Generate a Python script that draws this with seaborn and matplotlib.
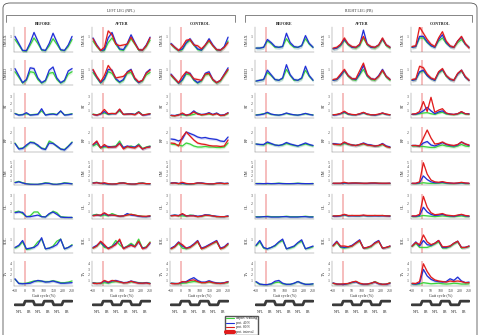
import matplotlib; matplotlib.use("Agg")
import matplotlib.pyplot as plt
import seaborn as sns
from matplotlib.lines import Line2D
from matplotlib.patches import FancyBboxPatch

W, H = 480, 335

gait = [-50, -30, -10, 10, 30, 50, 70, 90, 110, 130, 150, 170, 190, 210, 230, 250]
muscles = ["GMAX", "GMED", "ST", "RF", "GM", "GL", "SOL", "TA"]
y_max = [1.6, 1.6, 3.5, 2.5, 5.5, 3.2, 1.8, 4.5]
y_ticks = [[1], [1], [1, 2, 3], [1, 2], [1, 2, 3, 4, 5], [1, 2, 3], [1], [1, 2, 3, 4]]
band_sd = [0.12, 0.12, 0.15, 0.15, 0.2, 0.15, 0.1, 0.25]
legs = ["LEFT LEG (NPL)", "RIGHT LEG (PB)"]
conditions = ["BEFORE", "AFTER", "CONTROL"]
series_names = ["unpert. walking", "pert. 40 N", "pert. 80 N", "pert. interval"]
xticks = [-50, 0, 50, 100, 150, 200, 250]
pert_span = (-2, 6)
phase_x = [-50, -4, 4, 46, 54, 96, 104, 146, 154, 196, 204, 250]
phase_lvl = [0, 0, 1, 1, 0, 0, 1, 1, 0, 0, 1, 1]
phase_pos = [-25, 25, 75, 125, 175, 225]
phase_labels = ["NPL", "PB", "NPL", "PB", "NPL", "PB"]

# (green, blue, red) per muscle
L_BEFORE = {
    "GMAX": ([0.8,0.45,0.08,0.05,0.45,0.9,0.55,0.12,0.08,0.4,0.85,0.5,0.12,0.08,0.35,0.8],
             [1.0,0.55,0.1,0.08,0.6,1.25,0.7,0.15,0.1,0.55,1.2,0.65,0.15,0.1,0.45,1.0], None),
    "GMED": ([0.85,0.5,0.12,0.3,0.85,0.8,0.35,0.12,0.25,0.75,0.8,0.35,0.12,0.25,0.7,0.85],
             [1.05,0.6,0.15,0.35,1.1,1.05,0.45,0.15,0.3,0.95,1.15,0.45,0.15,0.3,0.9,1.05], None),
    "ST":   ([0.65,0.45,0.5,0.6,0.45,0.5,0.55,1.0,0.45,0.55,0.6,0.5,0.95,0.45,0.5,0.6],
             [0.6,0.4,0.45,0.75,0.4,0.45,0.5,1.3,0.4,0.5,0.55,0.45,1.0,0.4,0.45,0.55], None),
    "RF":   ([0.9,0.35,0.4,0.6,1.0,0.95,0.6,0.4,0.3,1.1,0.9,0.55,0.3,0.25,0.6,1.0],
             [0.85,0.3,0.35,0.7,0.95,0.9,0.7,0.35,0.25,0.9,0.85,0.6,0.3,0.2,0.55,0.95], None),
    "GM":   ([0.6,0.8,0.5,0.3,0.2,0.15,0.15,0.3,0.5,0.4,0.2,0.15,0.3,0.5,0.4,0.3],
             [0.5,0.7,0.45,0.25,0.15,0.15,0.15,0.25,0.4,0.35,0.15,0.15,0.25,0.4,0.35,0.25], None),
    "GL":   ([0.9,1.0,0.7,0.3,0.4,0.9,0.9,0.3,0.3,0.6,1.0,0.8,0.3,0.25,0.2,0.2],
             [0.8,0.9,0.85,0.3,0.3,0.4,0.5,0.3,0.25,0.7,0.9,0.6,0.25,0.2,0.2,0.2], None),
    "SOL":  ([0.35,0.5,0.8,0.25,0.3,0.45,0.8,1.0,0.3,0.35,0.5,0.85,1.0,0.3,0.4,0.6],
             [0.4,0.55,0.9,0.3,0.35,0.4,0.6,1.1,0.3,0.35,0.45,0.6,1.0,0.3,0.4,0.55], None),
    "TA":   ([1.2,0.5,0.45,0.5,0.7,0.9,0.9,0.85,0.8,0.8,0.95,0.8,0.6,0.6,0.7,0.9],
             [1.3,0.45,0.4,0.45,0.5,0.8,1.0,0.9,0.7,0.75,0.9,0.7,0.5,0.5,0.55,0.6], None),
}
L_AFTER = {
    "GMAX": ([0.7,0.35,0.08,0.1,0.6,0.9,0.5,0.15,0.1,0.45,0.85,0.5,0.12,0.1,0.35,0.75],
             [0.9,0.45,0.1,0.15,0.9,1.25,0.6,0.2,0.15,0.55,1.1,0.6,0.15,0.12,0.45,0.95],
             [0.85,0.4,0.1,0.3,1.35,1.1,0.5,0.4,0.45,0.5,0.95,0.55,0.15,0.12,0.4,0.9]),
    "GMED": ([0.8,0.45,0.12,0.35,0.85,0.75,0.35,0.15,0.3,0.75,0.8,0.35,0.15,0.25,0.65,0.8],
             [0.95,0.5,0.15,0.4,1.0,0.95,0.4,0.2,0.35,0.85,1.0,0.4,0.15,0.3,0.8,1.0],
             [1.0,0.55,0.2,0.6,1.25,0.9,0.45,0.5,0.55,0.8,0.95,0.45,0.2,0.3,0.75,0.95]),
    "ST":   ([0.55,0.45,0.6,0.7,0.5,0.6,0.65,1.0,0.5,0.55,0.6,0.5,0.9,0.45,0.5,0.6],
             [0.5,0.4,0.55,0.9,0.55,0.6,0.6,1.2,0.5,0.55,0.6,0.5,0.85,0.4,0.45,0.55],
             [0.5,0.4,0.6,1.2,0.6,0.65,0.6,1.25,0.5,0.55,0.55,0.45,0.8,0.4,0.5,0.6]),
    "RF":   ([0.6,0.8,0.4,0.5,0.5,0.55,0.6,1.1,0.4,0.5,0.6,0.45,0.8,0.35,0.5,0.6],
             [0.7,1.0,0.45,0.6,0.55,0.5,0.55,0.9,0.45,0.6,0.5,0.5,0.7,0.3,0.45,0.55],
             [0.75,1.1,0.4,0.75,0.45,0.5,0.5,0.85,0.3,0.55,0.45,0.4,0.65,0.3,0.45,0.5]),
    "GM":   ([0.5,0.6,0.4,0.3,0.2,0.2,0.25,0.45,0.5,0.3,0.2,0.2,0.4,0.45,0.3,0.3],
             [0.45,0.55,0.35,0.35,0.2,0.2,0.2,0.4,0.45,0.3,0.2,0.2,0.35,0.4,0.3,0.25],
             [0.4,0.5,0.35,0.5,0.3,0.2,0.25,0.4,0.45,0.3,0.2,0.2,0.35,0.4,0.3,0.3]),
    "GL":   ([0.5,0.6,0.4,0.5,0.4,0.7,0.5,0.35,0.4,0.55,0.6,0.5,0.4,0.35,0.3,0.4],
             [0.45,0.5,0.45,0.7,0.45,0.5,0.45,0.35,0.4,0.7,0.5,0.45,0.35,0.3,0.3,0.35],
             [0.4,0.5,0.5,0.8,0.5,0.5,0.45,0.35,0.4,0.5,0.6,0.5,0.4,0.35,0.35,0.4]),
    "SOL":  ([0.35,0.5,0.75,0.4,0.35,0.5,0.9,0.6,0.35,0.5,0.7,0.5,1.0,0.35,0.45,0.8],
             [0.4,0.55,0.8,0.5,0.35,0.45,0.7,0.9,0.35,0.45,0.6,0.45,0.8,0.35,0.4,0.7],
             [0.35,0.5,0.85,0.6,0.3,0.45,0.6,1.0,0.3,0.45,0.55,0.45,0.85,0.3,0.4,0.75]),
    "TA":   ([0.6,0.5,0.45,0.6,0.5,0.7,0.8,0.7,0.6,0.6,0.75,0.7,0.6,0.55,0.6,0.5],
             [0.55,0.45,0.5,0.9,0.6,0.9,1.0,0.8,0.6,0.65,0.9,0.7,0.55,0.5,0.6,0.45],
             [0.5,0.45,0.5,1.0,0.7,1.0,0.9,0.75,0.55,0.6,0.85,0.65,0.5,0.5,0.55,0.4]),
}
L_CONTROL = {
    "GMAX": ([0.5,0.25,0.08,0.15,0.55,0.75,0.45,0.15,0.1,0.4,0.7,0.4,0.12,0.1,0.3,0.7],
             [0.55,0.3,0.1,0.2,0.6,0.85,0.5,0.2,0.12,0.45,0.85,0.45,0.15,0.12,0.35,0.95],
             [0.5,0.3,0.1,0.35,0.75,0.8,0.45,0.4,0.2,0.45,0.75,0.4,0.15,0.12,0.3,0.6]),
    "GMED": ([0.6,0.35,0.1,0.3,0.7,0.65,0.3,0.12,0.25,0.65,0.7,0.3,0.12,0.25,0.6,0.95],
             [0.7,0.4,0.12,0.35,0.8,0.75,0.35,0.15,0.3,0.75,0.85,0.35,0.15,0.3,0.7,1.1],
             [0.65,0.4,0.15,0.55,0.85,0.7,0.4,0.35,0.3,0.7,0.75,0.35,0.15,0.3,0.65,1.0]),
    "ST":   ([0.35,0.3,0.5,0.45,0.35,0.4,0.5,0.7,0.4,0.5,0.55,0.45,0.65,0.35,0.4,0.6],
             [0.4,0.35,0.45,0.6,0.4,0.55,1.0,0.6,0.5,0.55,0.75,0.5,0.7,0.4,0.45,0.75],
             [0.35,0.3,0.4,0.7,0.4,0.5,0.85,0.55,0.45,0.5,0.65,0.45,0.6,0.35,0.4,0.7]),
    "RF":   ([0.8,0.75,0.7,0.6,0.9,0.8,0.6,0.5,0.5,0.55,0.5,0.5,0.45,0.45,0.5,0.9],
             [1.3,1.25,1.1,1.3,2.0,1.85,1.7,1.5,1.4,1.45,1.35,1.3,1.25,1.1,1.05,1.5],
             [0.9,0.85,0.6,1.5,2.0,1.6,1.2,0.9,0.8,0.75,0.65,0.6,0.6,0.55,0.6,1.2]),
    "GM":   ([0.4,0.5,0.3,0.3,0.2,0.2,0.25,0.4,0.4,0.3,0.2,0.2,0.35,0.4,0.3,0.35],
             [0.45,0.5,0.35,0.4,0.25,0.25,0.3,0.45,0.45,0.35,0.25,0.25,0.4,0.45,0.35,0.4],
             [0.4,0.45,0.3,0.6,0.35,0.25,0.3,0.45,0.4,0.3,0.25,0.25,0.35,0.4,0.3,0.35]),
    "GL":   ([0.4,0.5,0.4,0.4,0.35,0.5,0.45,0.3,0.35,0.45,0.5,0.4,0.3,0.3,0.3,0.35],
             [0.45,0.5,0.45,0.6,0.4,0.45,0.45,0.35,0.4,0.55,0.5,0.4,0.35,0.3,0.3,0.4],
             [0.4,0.45,0.4,0.7,0.4,0.4,0.4,0.3,0.35,0.5,0.45,0.4,0.3,0.3,0.3,0.35]),
    "SOL":  ([0.3,0.45,0.7,0.35,0.3,0.4,0.6,0.8,0.3,0.4,0.55,0.7,0.8,0.3,0.4,0.6],
             [0.35,0.5,0.8,0.5,0.35,0.45,0.65,0.9,0.35,0.45,0.6,0.75,0.9,0.35,0.45,0.7],
             [0.3,0.45,0.75,0.6,0.35,0.4,0.6,0.85,0.3,0.4,0.55,0.7,0.85,0.3,0.4,0.65]),
    "TA":   ([0.5,0.45,0.4,0.5,0.55,0.7,0.8,0.75,0.6,0.6,0.7,0.6,0.5,0.5,0.55,0.6],
             [0.5,0.45,0.45,0.7,0.8,1.2,1.5,1.0,0.7,0.7,0.95,0.7,0.55,0.5,0.6,0.8],
             [0.45,0.4,0.45,0.8,0.7,1.0,1.1,0.8,0.6,0.6,0.8,0.6,0.5,0.45,0.55,0.75]),
}
R_BEFORE = {
    "GMAX": ([0.25,0.25,0.3,0.7,0.55,0.3,0.3,0.35,0.85,0.5,0.3,0.3,0.4,0.85,0.5,0.3],
             [0.25,0.25,0.3,0.8,0.6,0.35,0.3,0.35,1.2,0.6,0.35,0.3,0.4,1.05,0.55,0.3], None),
    "GMED": ([0.25,0.3,0.35,0.8,0.6,0.35,0.3,0.4,1.0,0.6,0.3,0.3,0.4,0.95,0.55,0.3],
             [0.25,0.3,0.35,0.95,0.65,0.35,0.3,0.45,1.3,0.65,0.35,0.3,0.45,1.2,0.6,0.3], None),
    "ST":   ([0.45,0.5,0.6,0.7,0.5,0.45,0.4,0.5,0.65,0.5,0.45,0.4,0.5,0.6,0.5,0.45],
             [0.4,0.45,0.55,0.8,0.55,0.45,0.4,0.5,0.7,0.55,0.45,0.4,0.5,0.65,0.5,0.4], None),
    "RF":   ([0.8,0.75,0.7,0.9,0.8,0.7,0.65,0.7,0.85,0.75,0.65,0.6,0.7,0.8,0.7,0.6],
             [0.8,0.75,0.75,1.0,0.85,0.7,0.65,0.75,0.95,0.8,0.7,0.6,0.75,0.9,0.75,0.65], None),
    "GM":   ([0.35,0.35,0.3,0.3,0.3,0.35,0.4,0.35,0.3,0.3,0.35,0.4,0.35,0.3,0.3,0.35],
             [0.3,0.3,0.3,0.35,0.3,0.3,0.35,0.3,0.3,0.3,0.3,0.35,0.3,0.3,0.3,0.3], None),
    "GL":   ([0.3,0.3,0.3,0.35,0.3,0.3,0.3,0.3,0.35,0.3,0.3,0.3,0.3,0.35,0.3,0.3],
             [0.25,0.25,0.3,0.3,0.25,0.25,0.25,0.3,0.3,0.25,0.25,0.25,0.3,0.3,0.25,0.25], None),
    "SOL":  ([0.5,0.8,0.35,0.3,0.4,0.5,0.75,0.9,0.3,0.35,0.45,0.7,0.85,0.3,0.35,0.45],
             [0.55,0.9,0.4,0.3,0.4,0.55,0.8,1.0,0.3,0.4,0.5,0.75,0.95,0.3,0.4,0.5], None),
    "TA":   ([0.7,0.3,0.25,0.25,0.35,0.6,0.7,0.4,0.3,0.3,0.45,0.8,0.5,0.3,0.3,0.35],
             [0.8,0.35,0.25,0.25,0.4,0.85,1.0,0.5,0.3,0.3,0.5,0.8,0.5,0.3,0.3,0.4], None),
}
R_AFTER = {
    "GMAX": ([0.2,0.25,0.4,0.75,0.45,0.3,0.25,0.4,0.9,0.45,0.3,0.25,0.4,0.8,0.4,0.25],
             [0.2,0.25,0.45,0.8,0.5,0.3,0.3,0.45,1.4,0.5,0.3,0.3,0.45,0.85,0.45,0.3],
             [0.25,0.3,0.5,0.9,0.5,0.35,0.3,0.5,1.0,0.5,0.35,0.3,0.45,0.9,0.45,0.3]),
    "GMED": ([0.3,0.35,0.6,0.9,0.55,0.35,0.3,0.65,1.0,0.55,0.35,0.3,0.55,0.9,0.5,0.3],
             [0.3,0.35,0.6,0.95,0.6,0.4,0.35,0.7,1.25,0.6,0.4,0.35,0.6,1.0,0.55,0.35],
             [0.35,0.4,0.7,1.0,0.6,0.4,0.4,0.9,1.4,0.65,0.4,0.35,0.55,0.95,0.55,0.35]),
    "ST":   ([0.45,0.5,0.6,0.75,0.5,0.45,0.45,0.55,0.7,0.5,0.45,0.4,0.5,0.65,0.5,0.45],
             [0.4,0.45,0.6,0.85,0.55,0.45,0.45,0.55,0.75,0.55,0.45,0.4,0.5,0.7,0.5,0.45],
             [0.45,0.5,0.65,0.95,0.6,0.5,0.45,0.6,0.8,0.55,0.45,0.45,0.55,0.7,0.55,0.45]),
    "RF":   ([0.8,0.75,0.7,0.85,0.75,0.7,0.65,0.7,0.8,0.7,0.65,0.6,0.6,0.75,0.55,0.45],
             [0.85,0.8,0.75,0.95,0.8,0.7,0.65,0.75,0.9,0.75,0.7,0.6,0.65,0.85,0.6,0.5],
             [0.8,0.75,0.75,1.0,0.8,0.7,0.65,0.75,0.85,0.7,0.65,0.6,0.65,0.8,0.55,0.45]),
    "GM":   ([0.35,0.35,0.35,0.4,0.35,0.4,0.45,0.4,0.35,0.35,0.4,0.45,0.4,0.35,0.35,0.35],
             [0.35,0.35,0.35,0.45,0.35,0.4,0.4,0.4,0.35,0.35,0.4,0.4,0.35,0.35,0.35,0.4],
             [0.4,0.4,0.4,0.6,0.4,0.45,0.45,0.4,0.4,0.4,0.45,0.45,0.4,0.4,0.4,0.4]),
    "GL":   ([0.35,0.4,0.4,0.5,0.4,0.45,0.4,0.4,0.45,0.4,0.4,0.45,0.4,0.45,0.4,0.4],
             [0.35,0.35,0.4,0.55,0.4,0.4,0.4,0.4,0.45,0.4,0.4,0.4,0.4,0.4,0.4,0.35],
             [0.4,0.4,0.45,0.6,0.45,0.45,0.45,0.45,0.5,0.45,0.45,0.45,0.45,0.45,0.4,0.4]),
    "SOL":  ([0.5,0.75,0.4,0.35,0.4,0.5,0.7,0.85,0.35,0.35,0.45,0.7,0.85,0.35,0.4,0.45],
             [0.55,0.85,0.45,0.4,0.45,0.55,0.75,0.95,0.35,0.4,0.5,0.75,0.9,0.35,0.4,0.5],
             [0.5,0.8,0.5,0.5,0.45,0.5,0.7,0.9,0.35,0.4,0.5,0.7,0.85,0.35,0.4,0.5]),
    "TA":   ([0.5,0.3,0.3,0.3,0.4,0.6,0.8,0.45,0.3,0.3,0.45,0.8,0.45,0.3,0.3,0.6],
             [0.55,0.35,0.3,0.3,0.45,0.65,0.75,0.45,0.3,0.35,0.5,0.7,0.4,0.3,0.3,0.5],
             [0.5,0.35,0.35,0.4,0.45,0.7,0.85,0.5,0.35,0.35,0.5,0.75,0.45,0.3,0.35,0.55]),
}
R_CONTROL = {
    "GMAX": ([0.3,0.35,0.9,0.9,0.6,0.4,0.3,0.7,0.9,0.55,0.35,0.3,0.6,0.8,0.5,0.3],
             [0.3,0.35,1.0,1.0,0.65,0.4,0.3,0.8,1.1,0.6,0.35,0.3,0.7,0.95,0.5,0.3],
             [0.35,0.4,1.6,1.2,0.8,0.5,0.35,0.9,1.3,0.7,0.4,0.3,0.7,1.0,0.55,0.25]),
    "GMED": ([0.3,0.35,0.8,0.9,0.6,0.4,0.3,0.75,0.95,0.55,0.35,0.3,0.7,0.9,0.5,0.3],
             [0.3,0.35,0.85,0.95,0.6,0.4,0.3,0.8,1.0,0.6,0.35,0.3,0.7,0.95,0.5,0.3],
             [0.35,0.4,1.2,1.1,0.7,0.45,0.35,0.85,1.05,0.6,0.4,0.3,0.75,0.95,0.55,0.3]),
    "ST":   ([0.5,0.5,0.6,0.7,0.75,0.6,0.5,0.7,0.8,0.55,0.5,0.45,0.55,0.7,0.55,0.5],
             [0.5,0.55,0.7,1.0,1.5,1.0,0.6,0.85,1.0,0.65,0.55,0.5,0.6,0.85,0.6,0.6],
             [0.55,0.6,0.9,2.3,0.9,2.9,0.8,1.1,1.3,0.7,0.55,0.5,0.6,0.9,0.6,0.55]),
    "RF":   ([0.6,0.6,0.55,0.55,0.5,0.45,0.45,0.6,0.7,0.6,0.55,0.5,0.6,0.75,0.6,0.55],
             [0.65,0.65,0.6,0.9,1.05,0.7,0.6,0.75,0.95,0.75,0.65,0.6,0.7,1.0,0.8,0.65],
             [0.65,0.65,0.6,1.4,2.2,1.4,0.8,0.85,1.0,0.8,0.7,0.65,0.75,1.0,0.8,0.7]),
    "GM":   ([0.3,0.3,0.35,0.5,0.4,0.35,0.35,0.4,0.45,0.35,0.3,0.3,0.35,0.4,0.3,0.3],
             [0.35,0.35,0.5,2.0,1.2,0.7,0.5,0.5,0.6,0.45,0.4,0.35,0.4,0.5,0.4,0.35],
             [0.4,0.4,0.7,4.9,2.4,1.1,0.7,0.6,0.75,0.55,0.45,0.4,0.45,0.6,0.45,0.4]),
    "GL":   ([0.3,0.3,0.35,0.45,0.4,0.35,0.3,0.35,0.4,0.35,0.3,0.3,0.35,0.4,0.3,0.3],
             [0.35,0.35,0.45,1.5,0.9,0.6,0.45,0.5,0.6,0.45,0.4,0.35,0.45,0.55,0.4,0.35],
             [0.4,0.4,0.6,2.9,1.5,0.8,0.55,0.6,0.7,0.5,0.45,0.4,0.5,0.6,0.45,0.4]),
    "SOL":  ([0.45,0.7,0.4,0.4,0.4,0.5,0.65,0.8,0.35,0.35,0.45,0.65,0.8,0.35,0.4,0.45],
             [0.5,0.8,0.5,0.9,0.6,0.55,0.7,0.9,0.4,0.4,0.5,0.7,0.85,0.4,0.4,0.5],
             [0.5,0.75,0.6,1.3,0.8,0.6,0.7,0.9,0.45,0.45,0.5,0.7,0.85,0.4,0.4,0.5]),
    "TA":   ([0.35,0.3,0.35,0.6,0.5,0.4,0.45,0.5,0.4,0.35,0.4,0.5,0.45,0.35,0.35,0.4],
             [0.4,0.35,0.5,3.0,1.8,1.2,0.9,0.8,0.7,0.8,1.3,1.0,1.6,0.9,0.6,0.7],
             [0.5,0.45,0.8,4.0,2.6,1.6,1.1,0.9,0.8,0.7,0.9,0.8,0.9,0.8,0.6,0.6]),
}
panels = [L_BEFORE, L_AFTER, L_CONTROL, R_BEFORE, R_AFTER, R_CONTROL]

COLORS = ["#3cd43c", "#1f2fd6", "#e01b1b"]
PERT_C = "#f3a3a3"
col_x = [14, 92, 170, 255, 332, 411]
col_w = 59
row_y = [27, 60, 93, 127, 160, 194, 228, 261]
row_h = 25


def frac(x, y, w, h):
    return [x / W, 1 - (y + h) / H, w / W, h / H]


def ftxt(fig, x, y, s, **kw):
    fig.text(x / W, 1 - y / H, s, ha="center", va="center", **kw)


def fline(fig, xs, ys, **kw):
    fig.add_artist(Line2D([x / W for x in xs], [1 - y / H for y in ys],
                          transform=fig.transFigure, **kw))


sns.set_theme(style="white")
plt.rcParams["font.family"] = ["Liberation Serif", "DejaVu Serif"]

fig = plt.figure(figsize=(W / 100, H / 100), dpi=100)

# rounded outer frame (bottom edge runs off the picture)
fig.add_artist(FancyBboxPatch((3 / W, -20 / H), 1 - 6 / W, 1 + 17 / H,
                              boxstyle="round,pad=0,rounding_size=0.015",
                              transform=fig.transFigure, fill=False,
                              ec="#555555", lw=0.6))

# leg headers with brackets
for (x0, x1), leg in zip([(6, 235), (245, 472)], legs):
    fline(fig, [x0, x0, x1, x1], [22, 15, 15, 22], color="#555555", lw=0.5)
    ftxt(fig, (x0 + x1) / 2, 10, leg, fontsize=2.8, color="#333333")

for ci, data in enumerate(panels):
    x0 = col_x[ci]
    ftxt(fig, x0 + col_w / 2, 24, conditions[ci % 3], fontsize=3,
         fontweight="bold", color="#222222")
    for ri, m in enumerate(muscles):
        ax = fig.add_axes(frac(x0, row_y[ri], col_w, row_h))
        ax.axvspan(*pert_span, color=PERT_C, alpha=0.7, lw=0)
        for si, vals in enumerate(data[m]):
            if vals is None:
                continue
            lo = [v - band_sd[ri] for v in vals]
            hi = [v + band_sd[ri] for v in vals]
            ax.fill_between(gait, lo, hi, color=COLORS[si], alpha=0.16, lw=0)
            sns.lineplot(x=gait, y=vals, color=COLORS[si], lw=0.9, ax=ax,
                         legend=False)
        ax.set_xlim(-55, 255)
        ax.set_ylim(0, y_max[ri])
        ax.set_yticks(y_ticks[ri])
        ax.set_xticks(xticks)
        ax.set_ylabel(m, fontsize=3, labelpad=1.5)
        ax.tick_params(length=1, width=0.3, labelsize=2.8, pad=0.8,
                       colors="#444444")
        for s in ["top", "right"]:
            ax.spines[s].set_visible(False)
        for s in ["left", "bottom"]:
            ax.spines[s].set_linewidth(0.3)
            ax.spines[s].set_color("#777777")
        if ri < len(muscles) - 1:
            ax.set_xticklabels([])
        else:
            ax.set_xlabel("Gait cycle (%)", fontsize=3, labelpad=0.8)

    # gait phase indicator
    pax = fig.add_axes(frac(x0, 299, col_w, 8))
    sns.lineplot(x=phase_x, y=phase_lvl, color="#3a3a3a", lw=2.0, ax=pax,
                 legend=False)
    pax.set_xlim(-55, 255)
    pax.set_ylim(-0.6, 1.6)
    pax.axis("off")
    for px_, lab in zip(phase_pos, phase_labels):
        ftxt(fig, x0 + (px_ + 55) / 310 * col_w, 312, lab, fontsize=2.8,
             color="#333333")

handles = [Line2D([], [], color=COLORS[0], lw=0.8),
           Line2D([], [], color=COLORS[1], lw=0.8),
           Line2D([], [], color=COLORS[2], lw=0.8),
           Line2D([], [], color=COLORS[2], lw=3.0)]
fig.legend(handles, series_names, loc="upper left",
           bbox_to_anchor=(223 / W, 1 - 314 / H), fontsize=2.4, frameon=True,
           framealpha=1, edgecolor="#555555", fancybox=False, handlelength=2.5,
           borderpad=0.25, labelspacing=0.12, handletextpad=0.5)

fig.savefig("out.png", dpi=100)
